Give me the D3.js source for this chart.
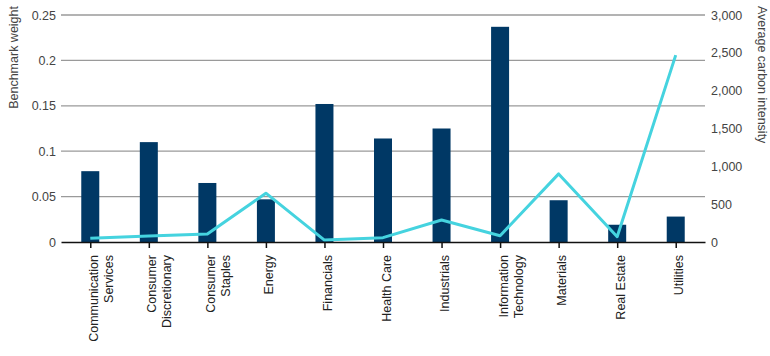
<!DOCTYPE html>
<html><head><meta charset="utf-8">
<script src="https://cdn.jsdelivr.net/npm/d3@7"></script>
<style>body{margin:0;background:#fff}svg{display:block}</style>
</head><body>
<svg id="c" width="770" height="356"></svg>
<script>
const categories = [["Communication","Services"],["Consumer","Discretionary"],["Consumer","Staples"],["Energy"],["Financials"],["Health Care"],["Industrials"],["Information","Technology"],["Materials"],["Real Estate"],["Utilities"]];
const weights = [0.078,0.11,0.065,0.047,0.152,0.114,0.125,0.237,0.046,0.019,0.028];
const intensity = [50,80,105,645,25,57,290,83,900,70,2470];
const leftTicks = [0,0.05,0.1,0.15,0.2,0.25];
const rightTicks = [0,500,1000,1500,2000,2500,3000];

const svg = d3.select("#c");
const L=61, R=705, T=15, B=242;
const names = categories.map(c=>c.join(" "));
const y = d3.scaleLinear().domain([0,0.25]).range([B,T]);
const y2 = d3.scaleLinear().domain([0,3000]).range([B,T]);
const xc = d3.scalePoint().domain(names).range([L,R]).padding(0.5);
const font = "Liberation Sans, Arial, sans-serif";

// gridlines
svg.append("g").selectAll("line").data(leftTicks.slice(1)).join("line")
  .attr("x1",L).attr("x2",R).attr("y1",d=>y(d)).attr("y2",d=>y(d))
  .attr("stroke","#9a9a9a").attr("stroke-width",1.3);

// bars
svg.append("g").selectAll("rect").data(weights).join("rect")
  .attr("x",(d,i)=>xc(names[i])-9).attr("width",18)
  .attr("y",d=>y(d)).attr("height",d=>B-y(d))
  .attr("fill","#003865");

// line
svg.append("path").datum(intensity)
  .attr("d",d3.line().x((d,i)=>xc(names[i])).y(d=>y2(d)))
  .attr("fill","none").attr("stroke","#45D3DF").attr("stroke-width",3).attr("stroke-linejoin","round");

// x axis
const gx = svg.append("g").attr("transform",`translate(0,${B})`)
  .call(d3.axisBottom(xc).tickSize(6).tickSizeOuter(0).tickFormat(""));
gx.select(".domain").attr("stroke","#111").attr("stroke-width",1.5);
gx.selectAll(".tick line").attr("stroke","#111").attr("stroke-width",1.5);
gx.selectAll(".tick").each(function(d,i){
  const t = d3.select(this).append("text")
    .attr("transform","rotate(-90)").attr("text-anchor","end")
    .attr("x",-13).attr("y",7)
    .attr("fill","#222").attr("font-family",font).attr("font-size","12.5px");
  categories[i].forEach((s,j)=>t.append("tspan").attr("x",-13).attr("dy",j?"1.2em":0).text(s));
});

// left axis
const fmtL = d=> d===0?"0":String(d);
const gl = svg.append("g").attr("transform",`translate(${L},0)`)
  .call(d3.axisLeft(y).tickValues(leftTicks).tickSize(0).tickPadding(5).tickFormat(fmtL));
gl.select(".domain").remove();
gl.selectAll("text").attr("fill","#444").attr("font-family",font).attr("font-size","12.5px");

// right axis
const gr = svg.append("g").attr("transform",`translate(${R},0)`)
  .call(d3.axisRight(y2).tickValues(rightTicks).tickSize(0).tickPadding(6).tickFormat(d3.format(",")));
gr.select(".domain").remove();
gr.selectAll("text").attr("fill","#444").attr("font-family",font).attr("font-size","12.5px");

// axis titles
svg.append("text").attr("transform","translate(18,6) rotate(-90)").attr("text-anchor","end")
  .attr("fill","#444").attr("font-family",font).attr("font-size","12.5px").text("Benchmark weight");
svg.append("text").attr("transform","translate(758,6) rotate(90)").attr("text-anchor","start")
  .attr("fill","#444").attr("font-family",font).attr("font-size","12.5px").text("Average carbon intensity");
</script>
</body></html>
